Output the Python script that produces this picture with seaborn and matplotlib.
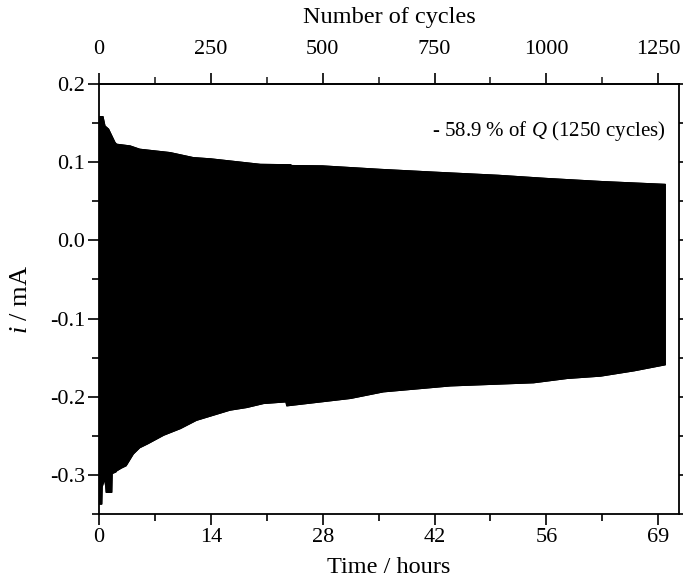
import numpy as np
import pandas as pd
import matplotlib
matplotlib.use("Agg")
import matplotlib.pyplot as plt
import seaborn as sns

# Upper and lower current envelopes of the cycling trace (time in hours, current in mA)
upper_time = [0.0, 0.05, 0.5, 0.75, 1.2, 2.0, 2.2, 3.9, 5.1, 8.9, 11.8, 14.0,
              20.2, 24.0, 24.1, 28.0, 35.2, 42.0, 50.0, 56.0, 63.0, 70.9]
upper_current = [0.127, 0.158, 0.158, 0.146, 0.142, 0.125, 0.1227, 0.1205, 0.1163,
                 0.112, 0.1056, 0.104, 0.097, 0.0965, 0.0955, 0.095, 0.0906, 0.087,
                 0.083, 0.079, 0.075, 0.0714]

lower_time = [0.0, 0.35, 0.4, 0.7, 0.85, 0.9, 1.6, 1.65, 2.1, 2.12, 2.13, 2.14,
              2.8, 3.4, 4.3, 5.1, 6.1, 8.1, 10.2, 12.2, 14.3, 16.4, 18.5,
              20.6, 23.4, 23.5, 31.5, 35.6, 44.0, 54.4, 58.6, 62.8, 67.0, 70.7, 70.9]
lower_current = [-0.337, -0.337, -0.315, -0.305, -0.315, -0.322, -0.322, -0.298,
                 -0.296, -0.296, -0.281, -0.295, -0.291, -0.288, -0.273,
                 -0.265, -0.26, -0.249, -0.2405, -0.23, -0.2235, -0.217, -0.2136,
                 -0.2085, -0.2064, -0.2115, -0.202, -0.1936, -0.186, -0.182,
                 -0.1765, -0.1735, -0.1667, -0.1594, -0.159]

time_ticks = [0, 14, 28, 42, 56, 70]
time_tick_labels = ["0", "14", "28", "42", "56", "69"]
cycle_ticks = [0, 250, 500, 750, 1000, 1250]
current_ticks = [-0.3, -0.2, -0.1, 0.0, 0.1, 0.2]
current_tick_labels = ["-0.3", "-0.2", "-0.1", "0.0", "0.1", "0.2"]
hours_total, cycles_total = 70.0, 1250.0
note = "- 58.9 % of $Q$ (1250 cycles)"

sns.set_style("ticks")
plt.rcParams["font.family"] = ["Liberation Serif", "DejaVu Serif"]
plt.rcParams["mathtext.fontset"] = "custom"
plt.rcParams["mathtext.rm"] = "Liberation Serif"
plt.rcParams["mathtext.it"] = "Liberation Serif:italic"
plt.rcParams["text.color"] = "black"
plt.rcParams["axes.labelcolor"] = "black"

fig = plt.figure(figsize=(6.83, 5.81), dpi=100)
ax = fig.add_axes([99 / 683, 1 - 514.3 / 581, (679 - 99) / 683, (514.3 - 83.7) / 581])

upper = pd.DataFrame({"t": upper_time, "i": upper_current})
lower = pd.DataFrame({"t": lower_time, "i": lower_current})

# The dense charge/discharge oscillation appears as a solid band between envelopes
poly_t = np.concatenate([upper["t"].to_numpy(), lower["t"].to_numpy()[::-1]])
poly_i = np.concatenate([upper["i"].to_numpy(), lower["i"].to_numpy()[::-1]])
ax.fill(poly_t, poly_i, color="black", linewidth=0.8, edgecolor="black")
sns.lineplot(data=upper, x="t", y="i", ax=ax, color="black", linewidth=0.8)
sns.lineplot(data=lower, x="t", y="i", ax=ax, color="black", linewidth=0.8)

ax.set_xlim(0, 72.6)
ax.set_ylim(-0.35, 0.2)

ax.set_xticks(time_ticks)
ax.set_xticklabels(time_tick_labels)
ax.set_xticks(np.arange(7, 70, 14), minor=True)
ax.set_yticks(current_ticks)
ax.set_yticklabels(current_tick_labels)
ax.set_yticks(np.arange(-0.35, 0.2, 0.1), minor=True)

for side in ["top", "right", "bottom", "left"]:
    ax.spines[side].set_visible(True)
    ax.spines[side].set_linewidth(1.3)
    ax.spines[side].set_color("black")

ax.tick_params(axis="both", which="major", direction="out", length=8, width=1.2,
               labelsize=16, colors="black", pad=2)
ax.tick_params(axis="both", which="minor", direction="out", length=5, width=1.2,
               colors="black")
ax.tick_params(axis="y", which="both", right=True)
ax.tick_params(axis="x", which="both", top=False)

ax.set_xlabel("Time / hours", fontsize=17.5, labelpad=7)
ax.set_ylabel("$i$ / mA", fontsize=19, labelpad=13)

sec = ax.secondary_xaxis(
    "top",
    functions=(lambda h: h * cycles_total / hours_total,
               lambda c: c * hours_total / cycles_total),
)
sec.set_xticks(cycle_ticks)
sec.set_xticks(np.arange(125, 1300, 250), minor=True)
sec.tick_params(axis="x", which="major", direction="out", length=8, width=1.2,
                labelsize=16, colors="black", pad=10)
sec.tick_params(axis="x", which="minor", direction="out", length=5, width=1.2)
sec.spines["top"].set_linewidth(1.3)
sec.set_xlabel("Number of cycles", fontsize=17.5, labelpad=12)

ax.text(70.96, 0.1397, note, ha="right", va="center", fontsize=15, color="black")

fig.savefig("out.png", dpi=100)
